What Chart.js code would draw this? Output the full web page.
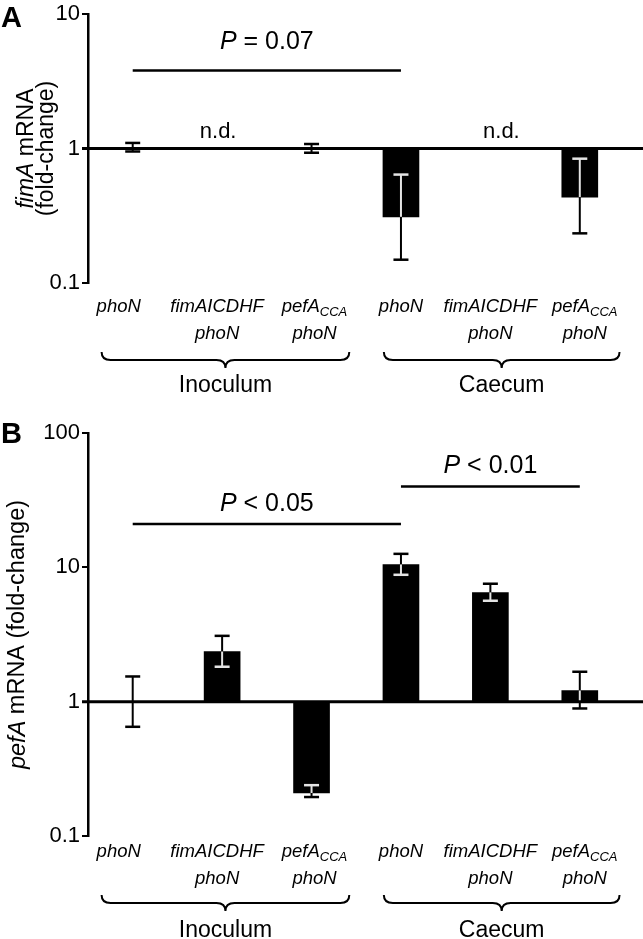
<!DOCTYPE html>
<html>
<head>
<meta charset="utf-8">
<script src="https://cdn.jsdelivr.net/npm/chart.js@4.4.0/dist/chart.umd.min.js"></script>
<style>
html,body{margin:0;padding:0;background:#fff;}
#wrap{position:relative;width:643px;height:939px;}
.box{position:absolute;left:0;width:643px;}
</style>
</head>
<body>
<div id="wrap">
  <div class="box" style="top:0;height:410px"><canvas id="chartA"></canvas></div>
  <div class="box" style="top:410px;height:529px"><canvas id="chartB"></canvas></div>
</div>
<script>
// categories (strain labels), split for drawing
var categories = ['phoN', 'fimAICDHF phoN', 'pefACCA phoN', 'phoN', 'fimAICDHF phoN', 'pefACCA phoN'];
var catTop = ['phoN', 'fimAICDHF', 'pefA', 'phoN', 'fimAICDHF', 'pefA'];
var catSub = ['', '', 'CCA', '', '', 'CCA'];
var catBottom = ['', 'phoN', 'phoN', '', 'phoN', 'phoN'];
var groupNames = ['Inoculum', 'Caecum'];
var groupFirst = [0, 3];
var groupLast = [2, 5];

// panel A: fimA mRNA fold-change (null = n.d.)
var fimaMean = [1.0, null, 1.0, 0.31, null, 0.435];
var fimaHigh = [1.10, null, 1.08, 0.64, null, 0.84];
var fimaLow = [0.95, null, 0.93, 0.149, null, 0.234];
var fimaTicks = [0.1, 1, 10];
var fimaSigPairs = [[0, 3]];
var fimaSigLevel = [3.8];
var fimaSigText = ['= 0.07'];

// panel B: pefA mRNA fold-change
var pefaMean = [1.0, 2.36, 0.209, 10.5, 6.5, 1.21];
var pefaHigh = [1.54, 3.09, 0.239, 12.6, 7.55, 1.67];
var pefaLow = [0.65, 1.82, 0.195, 8.8, 5.64, 0.89];
var pefaTicks = [0.1, 1, 10, 100];
var pefaSigPairs = [[0, 3], [3, 5]];
var pefaSigLevel = [21, 40];
var pefaSigText = ['< 0.05', '< 0.01'];

var FAMILY = '"Liberation Sans", Arial, Helvetica, sans-serif';

function fontOf(p) {
	return (p.bold ? 'bold ' : '') + (p.it ? 'italic ' : '') + (p.size || 20) + 'px ' + FAMILY;
}
function richWidth(ctx, parts) {
	var w = 0;
	parts.forEach(function(p) { ctx.font = fontOf(p); w += ctx.measureText(p.t).width; });
	return w;
}
// centred at x, baseline y; returns [left, right]
function drawRich(ctx, parts, x, y) {
	var w = richWidth(ctx, parts), cx = x - w / 2;
	ctx.textAlign = 'left';
	parts.forEach(function(p) {
		ctx.font = fontOf(p);
		ctx.fillText(p.t, cx, y + (p.dy || 0));
		cx += ctx.measureText(p.t).width;
	});
	return [x - w / 2, x + w / 2];
}
function line(ctx, x1, y1, x2, y2, color, w) {
	ctx.strokeStyle = color;
	ctx.lineWidth = w;
	ctx.beginPath();
	ctx.moveTo(x1, y1);
	ctx.lineTo(x2, y2);
	ctx.stroke();
}
function brace(ctx, x1, x2, y, h) {
	var c = (x1 + x2) / 2, r = 9;
	ctx.strokeStyle = '#000';
	ctx.lineWidth = 2;
	ctx.beginPath();
	ctx.moveTo(x1, y - h);
	ctx.quadraticCurveTo(x1, y, x1 + r, y);
	ctx.lineTo(c - r, y);
	ctx.quadraticCurveTo(c, y, c, y + h);
	ctx.quadraticCurveTo(c, y, c + r, y);
	ctx.lineTo(x2 - r, y);
	ctx.quadraticCurveTo(x2, y, x2, y - h);
	ctx.stroke();
}

// text nudges (text only), matching the figure
var labelNudge = [-14, -5, 3, 0, 0, 5];
var ndNudge = [0, -4, 0, 0, 11, 0];

function makePanel(id, cfg) {
	var decorate = {
		id: 'decorate' + id,
		afterDatasetsDraw: function(chart) {
			var ctx = chart.ctx, xs = chart.scales.x, ys = chart.scales.y, ca = chart.chartArea;
			var y0 = ys.getPixelForValue(1);
			ctx.save();
			// error bars
			cfg.mean.forEach(function(m, i) {
				if (m == null) return;
				var x = xs.getPixelForValue(i), ym = ys.getPixelForValue(m);
				[cfg.high[i], cfg.low[i]].forEach(function(v) {
					var ye = ys.getPixelForValue(v);
					var towardBar = (ye - ym) * (y0 - ym) > 0 && Math.abs(y0 - ym) > 1;
					if (towardBar) {
						var split = Math.abs(ye - ym) < Math.abs(y0 - ym) ? ye : y0;
						line(ctx, x, ym, x, split, '#e4e4e4', 2);
						if (split !== ye) line(ctx, x, split, x, ye, '#000', 2);
					} else {
						line(ctx, x, ym, x, ye, '#000', 2);
					}
					var inside = towardBar && Math.abs(ye - ym) < Math.abs(y0 - ym);
					line(ctx, x - 7.5, ye, x + 7.5, ye, inside ? '#e4e4e4' : '#000', 2.5);
				});
			});
			// line at fold-change 1
			line(ctx, ca.left - 6, y0, chart.width, y0, '#000', 3);
			ctx.restore();
		},
		afterDraw: function(chart) {
			var ctx = chart.ctx, xs = chart.scales.x, ys = chart.scales.y, ca = chart.chartArea;
			var y0 = ys.getPixelForValue(1);
			ctx.save();
			ctx.fillStyle = '#000';
			// panel letter
			ctx.textAlign = 'left';
			ctx.font = 'bold 29px ' + FAMILY;
			ctx.fillText(cfg.letter, 1, cfg.letterY);
			// y title
			var yc = (ca.top + ca.bottom) / 2;
			cfg.title.forEach(function(parts, k) {
				ctx.save();
				ctx.translate(cfg.titleX[k], yc);
				ctx.rotate(-Math.PI / 2);
				ctx.textBaseline = 'middle';
				drawRich(ctx, parts, 0, 0);
				ctx.restore();
			});
			ctx.textBaseline = 'alphabetic';
			// significance bars
			cfg.sigPairs.forEach(function(pr, k) {
				var xa = xs.getPixelForValue(pr[0]), xb = xs.getPixelForValue(pr[1]);
				var yl = ys.getPixelForValue(cfg.sigLevel[k]);
				line(ctx, xa, yl, xb, yl, '#000', 2.5);
				drawRich(ctx, [{t: 'P', it: 1, size: 25}, {t: ' ' + cfg.sigText[k], size: 25}], (xa + xb) / 2, yl - cfg.sigGap);
			});
			// n.d.
			cfg.mean.forEach(function(m, i) {
				if (m != null) return;
				drawRich(ctx, [{t: 'n.d.', size: 22}], xs.getPixelForValue(i) + ndNudge[i], y0 - 11);
			});
			// category labels
			var extents = [];
			categories.forEach(function(c, i) {
				var x = xs.getPixelForValue(i) + labelNudge[i];
				var parts = [{t: catTop[i], it: 1, size: 18.5}];
				if (catSub[i]) parts.push({t: catSub[i], it: 1, size: 13, dy: 4});
				var e = drawRich(ctx, parts, x, ca.bottom + cfg.labY[0]);
				if (catBottom[i]) drawRich(ctx, [{t: catBottom[i], it: 1, size: 18.5}], x, ca.bottom + cfg.labY[1]);
				extents.push(e);
			});
			// group braces
			groupNames.forEach(function(g, k) {
				var x1 = extents[groupFirst[k]][0] + 5, x2 = extents[groupLast[k]][1] + 2;
				brace(ctx, x1, x2, ca.bottom + cfg.braceY, 8);
				drawRich(ctx, [{t: g, size: 23}], (x1 + x2) / 2, ca.bottom + cfg.groupY);
			});
			ctx.restore();
		}
	};

	return new Chart(document.getElementById(id), {
		type: 'bar',
		data: {
			labels: categories,
			datasets: [{
				data: cfg.mean.map(function(v) { return v == null ? null : [1, v]; }),
				backgroundColor: '#000',
				borderWidth: 0,
				barThickness: 36
			}]
		},
		options: {
			responsive: true,
			maintainAspectRatio: false,
			animation: false,
			layout: {padding: cfg.padding},
			plugins: {legend: {display: false}, tooltip: {enabled: false}},
			scales: {
				x: {type: 'category', display: false},
				y: {
					type: 'logarithmic',
					min: cfg.ticks[0],
					max: cfg.ticks[cfg.ticks.length - 1],
					afterBuildTicks: function(s) { s.ticks = cfg.ticks.map(function(v) { return {value: v}; }); },
					afterFit: function(s) { s.width = 88; },
					border: {display: true, color: '#000', width: 2.5},
					grid: {display: true, drawOnChartArea: false, drawTicks: true, tickLength: 6, color: '#000', lineWidth: 2},
					ticks: {
						color: '#000',
						padding: 2,
						font: {family: FAMILY, size: 22, lineHeight: 1},
						callback: function(v) { return String(v); }
					}
				}
			}
		},
		plugins: [decorate]
	});
}

makePanel('chartA', {
	letter: 'A', letterY: 27,
	mean: fimaMean, high: fimaHigh, low: fimaLow, ticks: fimaTicks,
	sigPairs: fimaSigPairs, sigLevel: fimaSigLevel, sigText: fimaSigText, sigGap: 22,
	title: [[{t: 'fimA', it: 1, size: 23}, {t: ' mRNA', size: 23}], [{t: '(fold-change)', size: 23}]],
	titleX: [27, 47],
	padding: {top: 14, bottom: 127, left: 0, right: 18.5},
	labY: [29, 56], braceY: 77, groupY: 109
});

makePanel('chartB', {
	letter: 'B', letterY: 33,
	mean: pefaMean, high: pefaHigh, low: pefaLow, ticks: pefaTicks,
	sigPairs: pefaSigPairs, sigLevel: pefaSigLevel, sigText: pefaSigText, sigGap: 13,
	title: [[{t: 'pefA', it: 1, size: 23.5}, {t: ' mRNA (fold-change)', size: 23.5}]],
	titleX: [18],
	padding: {top: 23, bottom: 103, left: 0, right: 18.5},
	labY: [21, 48], braceY: 67, groupY: 101
});
</script>
</body>
</html>
